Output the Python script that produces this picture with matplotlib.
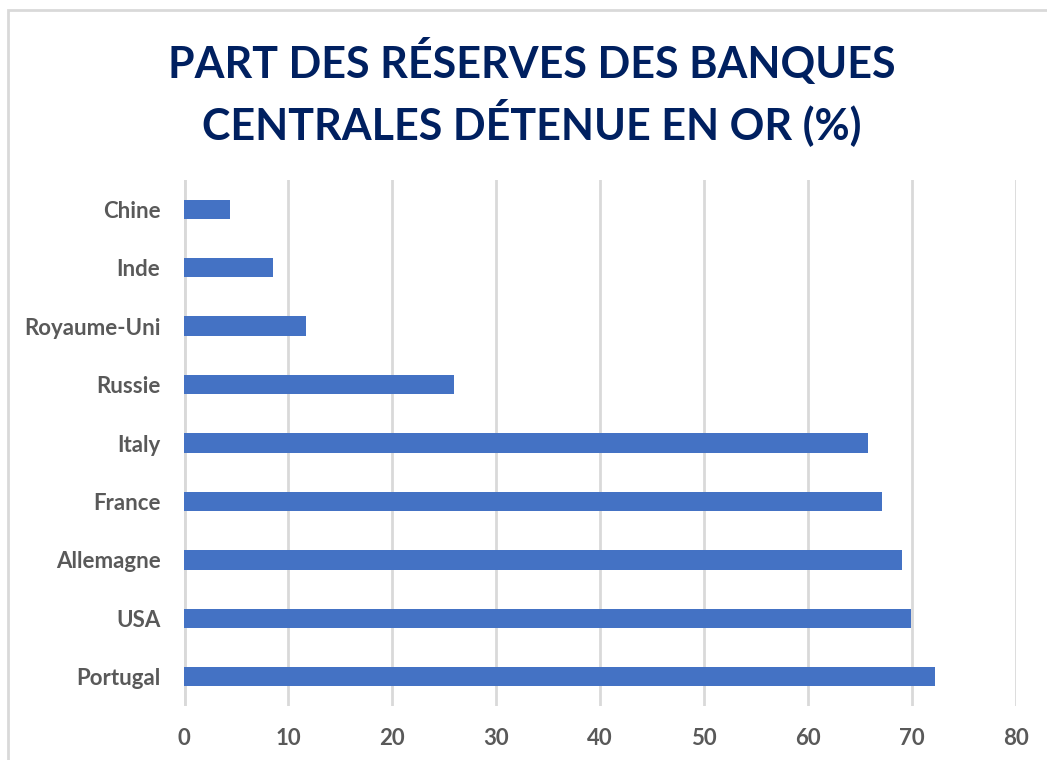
import matplotlib.pyplot as plt
from matplotlib.patches import Rectangle
import numpy as np

pays = ['Portugal', 'USA', 'Allemagne', 'France', 'Italy',
        'Russie', 'Royaume-Uni', 'Inde', 'Chine']
part_or = [72.2, 69.9, 69.0, 67.1, 65.8, 26.0, 11.7, 8.6, 4.4]
graduations = [0, 10, 20, 30, 40, 50, 60, 70, 80]
titre = 'PART DES RÉSERVES DES BANQUES\nCENTRALES DÉTENUE EN OR (%)'

bleu = '#4472C4'
gris_texte = '#595959'
gris_grille = '#d9d9d9'

plt.rcParams['font.family'] = ['Lato', 'DejaVu Sans']

fig = plt.figure(figsize=(10.47, 7.6), dpi=100)
ax = fig.add_axes([184 / 1047, 1 - 706 / 760, 832 / 1047, 526 / 760])

# cadre gris clair autour du graphique
fig.patches.append(Rectangle((8 / 1047, -0.05), 1.1, 1 - 10 / 760 + 0.05,
                             transform=fig.transFigure, fill=False,
                             edgecolor='#d9d9d9', linewidth=2))

y = np.arange(len(pays))
ax.barh(y, part_or, height=0.33, color=bleu, zorder=3)

ax.set_xlim(0, 80)
ax.set_ylim(-0.5, len(pays) - 0.5)
ax.set_xticks(graduations)
ax.set_yticks(y)
ax.set_yticklabels(pays)
ax.xaxis.grid(True, color=gris_grille, linewidth=2, zorder=0)
ax.axvline(0, color=gris_grille, linewidth=3.5, zorder=1)

for side in ['top', 'right', 'bottom', 'left']:
    ax.spines[side].set_visible(False)
ax.tick_params(length=0, labelsize=16, labelcolor=gris_texte)
ax.tick_params(axis='x', pad=16)
ax.tick_params(axis='y', pad=17)
for lab in ax.get_xticklabels() + ax.get_yticklabels():
    lab.set_fontweight('bold')

fig.text(532 / 1047, 1 - 92 / 760, titre, ha='center', va='center',
         fontsize=31, fontweight='bold', color='#002060', linespacing=1.32)

fig.savefig('out.png', dpi=100)
